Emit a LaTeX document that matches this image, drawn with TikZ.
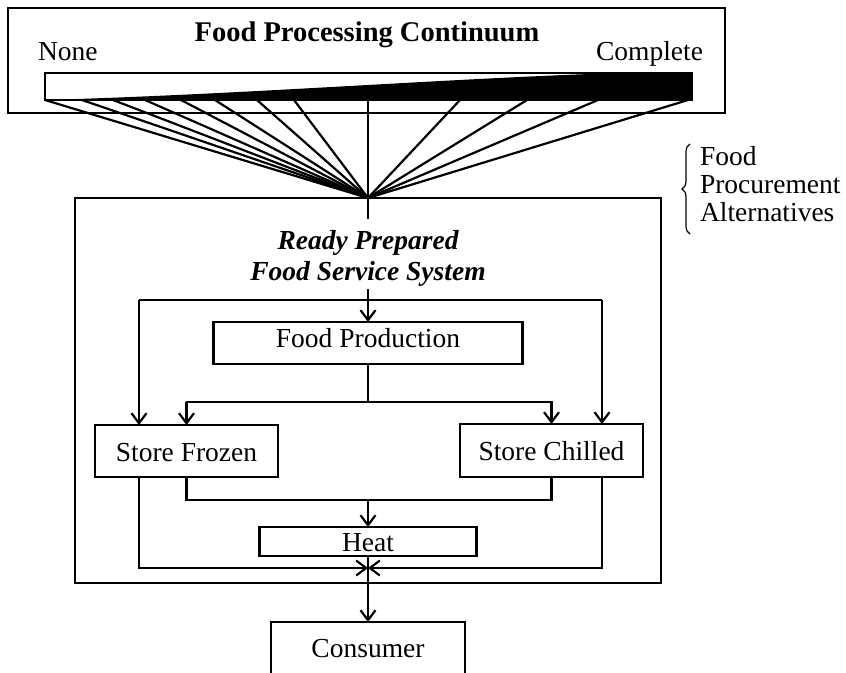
\documentclass[tikz,border=0pt]{standalone}
\usepackage{fontspec}
\setmainfont{Liberation Serif}
\usetikzlibrary{arrows.meta,decorations.pathreplacing}
\begin{document}
\begin{tikzpicture}[x=1pt,y=-1pt,
  every node/.style={font=\fontsize{27.5}{30}\selectfont, inner sep=0pt, outer sep=0pt},
  line/.style={line width=2.2pt},
  arr/.style={line width=2.2pt, -{Straight Barb[length=10pt,width=15pt,line width=2.2pt]}},
  box/.style={draw, line width=2.2pt, rectangle, inner sep=0pt},
  lbl/.style={anchor=base}]
\useasboundingbox (0,0) rectangle (846,672);

% ---- processing continuum frame ----
\node[box, minimum width=717pt, minimum height=105pt] (topbox) at (366.5,60.5) {};
\node[lbl, font=\fontsize{28.5}{30}\selectfont\bfseries] (title) at (367,41) {Food Processing Continuum};
\node[anchor=base west] (none) at (38,60) {None};
\node[anchor=base east] (complete) at (703,60) {Complete};

% continuum bar: white to black wedge
\node[box, minimum width=647pt, minimum height=27pt] (bar) at (368.5,86.5) {};
\fill (45,100) .. controls (250,94) and (420,80) .. (615,73) -- (692,73) -- (692,100) -- cycle;

% ---- fan of procurement alternatives ----
\coordinate (fan) at (368,198);
\foreach \x [count=\i] in {45,82,113,145,181,215,257,294,460,527,598,688}{
  \coordinate (f\i) at (\x,100);
  \draw[line] (f\i) -- (fan);
}
\coordinate (fmid) at (368,100);
\coordinate (fmidend) at (368,219);
\draw[line] (fmid) -- (fmidend);

% brace and its label
\coordinate (brb) at (690,234);
\coordinate (brt) at (690,144);
\draw[line width=1.2pt, decorate, decoration={brace, amplitude=8pt}] (brb) -- (brt);
\node[anchor=base west] (bt1) at (700,165) {Food};
\node[anchor=base west] (bt2) at (700,193) {Procurement};
\node[anchor=base west] (bt3) at (700,221) {Alternatives};

% ---- ready prepared system ----
\node[box, minimum width=586pt, minimum height=385pt] (bigbox) at (368,390.5) {};
\node[lbl, font=\fontsize{27.5}{30}\selectfont\bfseries\itshape] (rp1) at (368,249) {Ready Prepared};
\node[lbl, font=\fontsize{27.5}{30}\selectfont\bfseries\itshape] (rp2) at (368,280) {Food Service System};

\node[box, minimum width=309pt, minimum height=42pt] (fp) at (368,343) {};
\node[lbl] (fpt) at (368,347) {Food Production};
\node[box, minimum width=183pt, minimum height=52pt] (sf) at (186.5,451) {};
\node[lbl] (sft) at (186.5,461) {Store Frozen};
\node[box, minimum width=183pt, minimum height=53pt] (sc) at (551.5,450.5) {};
\node[lbl] (sct) at (551.5,460) {Store Chilled};
\node[box, minimum width=217pt, minimum height=29pt] (heat) at (368,541.5) {};
\node[lbl] (heatt) at (368,551) {Heat};
\node[box, minimum width=194pt, minimum height=80pt] (cons) at (368,662) {};
\node[lbl] (const) at (368,657) {Consumer};

% flow lines
\coordinate (in) at (368,289);
\coordinate (tl) at (139,300);
\coordinate (tr) at (602,300);
\draw[arr] (in) -- (fp.north);
\draw[line] (tl) -- (tr);
\draw[arr] (tl) -- (tl |- sf.north);
\draw[arr] (tr) -- (tr |- sc.north);

\coordinate (split) at (368,402);
\draw[line] (fp.south) -- (split);
\draw[arr] (186,402) -| (sf.north);
\draw[arr] (552,402) -| (sc.north);
\draw[line] (186,402) -- (552,402);

\coordinate (merge) at (368,500);
\draw[line] (sf.south) |- (merge);
\draw[line] (sc.south) |- (merge);
\draw[arr] (merge) -- (heat.north);

\coordinate (join) at (368,568);
\draw[arr] (tl |- sf.south) -- (139,568) -- (join);
\draw[arr] (tr |- sc.south) -- (602,568) -- (join);
\draw[arr] (heat.south) -- (cons.north);
\end{tikzpicture}
\end{document}
